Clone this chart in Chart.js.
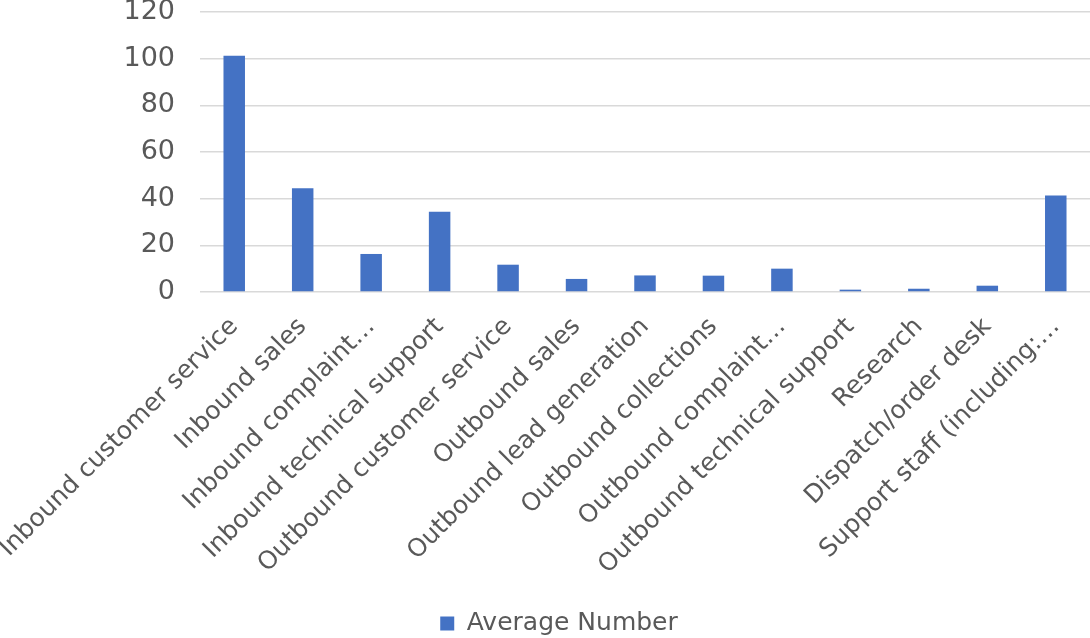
<!DOCTYPE html>
<html>
<head>
<meta charset="utf-8">
<script src="https://cdn.jsdelivr.net/npm/chart.js@4.4.0/dist/chart.umd.min.js"></script>
<style>
  html, body { margin: 0; padding: 0; background: #ffffff; }
  #contenedor { width: 1090px; height: 638px; }
</style>
</head>
<body>
<div id="contenedor"><canvas id="ChartPromedio" width="1090" height="638"></canvas></div>
<script>
// categorias y valores
const categorias = [
  "Inbound customer service",
  "Inbound sales",
  "Inbound complaint\u2026",
  "Inbound technical support",
  "Outbound customer service",
  "Outbound sales",
  "Outbound lead generation",
  "Outbound collections",
  "Outbound complaint\u2026",
  "Outbound technical support",
  "Research",
  "Dispatch/order desk",
  "Support staff (including:\u2026"
];
const promedio = [101.2, 44.5, 16.3, 34.4, 11.7, 5.6, 7.1, 7.0, 10.0, 1.0, 1.4, 2.7, 41.4];
const serieNombre = "Average Number";
const ejeYMax = 120;
const ejeYPaso = 20;

var fuente = "'DejaVu Sans', sans-serif";
var gris = "#595959";

// mueve la leyenda un poco (abajo y a la derecha) como en el original
var moverLeyenda = {
  id: "moverLeyenda",
  afterLayout: function(chart) {
    var ley = chart.legend;
    ley.left += 14; ley.right += 14;
    ley.top += 8; ley.bottom += 8;
  }
};

new Chart("ChartPromedio", {
  type: "bar",
  data: {
    labels: categorias,
    datasets: [{
      label: serieNombre,
      data: promedio,
      backgroundColor: "#4472C4",
      borderWidth: 0,
      barPercentage: 0.314,
      categoryPercentage: 1
    }]
  },
  plugins: [moverLeyenda],
  options: {
    responsive: false,
    animation: false,
    layout: { padding: { top: 0, right: 0, left: 0, bottom: 0 } },
    plugins: {
      tooltip: { enabled: false },
      legend: {
        display: true,
        position: "bottom",
        labels: {
          color: gris,
          font: { family: fuente, size: 25 },
          boxWidth: 14,
          boxHeight: 14,
          padding: 6
        }
      }
    },
    scales: {
      x: {
        grid: { display: false, drawTicks: false },
        border: { display: false },
        ticks: {
          color: gris,
          font: { family: fuente, size: 25 },
          autoSkip: false,
          maxRotation: 45,
          minRotation: 45,
          padding: 20
        },
        afterFit: function(escala) {
          escala.height = 305;
          escala.paddingLeft = 0;
          escala.paddingRight = 0;
        }
      },
      y: {
        min: 0,
        max: ejeYMax,
        grid: { color: "#d9d9d9", lineWidth: 1.5, drawTicks: false },
        border: { display: false },
        ticks: {
          stepSize: ejeYPaso,
          color: gris,
          font: { family: fuente, size: 27 },
          padding: 25
        },
        afterFit: function(escala) {
          escala.width = 200;
          escala.paddingTop = 12;
          escala.paddingBottom = 0;
        }
      }
    }
  }
});
</script>
</body>
</html>
